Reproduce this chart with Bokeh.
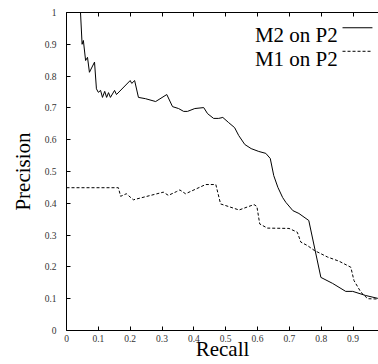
from bokeh.plotting import figure
from bokeh.models import LinearAxis, FixedTicker, Range1d, Label
from bokeh.embed import file_html
from bokeh.resources import INLINE

# ---- data ----
m2_recall = [0, 0.044, 0.049, 0.053, 0.06, 0.066, 0.072, 0.088, 0.094, 0.10, 0.107, 0.113,
             0.12, 0.126, 0.132, 0.138, 0.151, 0.157, 0.2, 0.205, 0.214, 0.226, 0.248, 0.28,
             0.315, 0.333, 0.352, 0.368, 0.38, 0.403, 0.431, 0.443, 0.462, 0.478, 0.491,
             0.509, 0.528, 0.541, 0.56, 0.58, 0.604, 0.626, 0.64, 0.651, 0.664, 0.679, 0.689,
             0.711, 0.73, 0.761, 0.799, 0.836, 0.877, 0.899, 0.94, 0.978]
m2_precision = [1.0, 1.0, 0.90, 0.912, 0.849, 0.859, 0.812, 0.844, 0.76, 0.749, 0.755, 0.733,
                0.752, 0.733, 0.748, 0.733, 0.755, 0.742, 0.786, 0.777, 0.786, 0.733, 0.729, 0.72,
                0.742, 0.704, 0.698, 0.689, 0.689, 0.698, 0.701, 0.682, 0.667, 0.667, 0.67,
                0.654, 0.638, 0.613, 0.585, 0.572, 0.563, 0.557, 0.541, 0.487, 0.45, 0.418, 0.403,
                0.377, 0.368, 0.346, 0.167, 0.148, 0.123, 0.123, 0.11, 0.101]

m1_recall = [0, 0.163, 0.17, 0.188, 0.21, 0.304, 0.32, 0.346, 0.356, 0.374, 0.437, 0.469,
             0.484, 0.542, 0.589, 0.598, 0.607, 0.631, 0.699, 0.725, 0.736, 0.757, 0.778,
             0.82, 0.856, 0.893, 0.903, 0.925, 0.946, 0.978]
m1_precision = [0.449, 0.449, 0.422, 0.43, 0.411, 0.435, 0.425, 0.437, 0.442, 0.43, 0.459, 0.459,
                0.398, 0.379, 0.396, 0.39, 0.335, 0.322, 0.321, 0.309, 0.278, 0.267, 0.252,
                0.231, 0.218, 0.199, 0.157, 0.12, 0.1, 0.099]

series_names = ["M2 on P2", "M1 on P2"]

x_ticks = [0, 0.1, 0.2, 0.3, 0.4, 0.5, 0.6, 0.7, 0.8, 0.9]
x_tick_labels = ["0", "0.1", "0.2", "0.3", "0.4", "0.5", "0.6", "0.7", "0.8", "0.9"]
y_ticks = [0, 0.1, 0.2, 0.3, 0.4, 0.5, 0.6, 0.7, 0.8, 0.9, 1.0]
y_tick_labels = ["0", "0.1", "0.2", "0.3", "0.4", "0.5", "0.6", "0.7", "0.8", "0.9", "1"]

FONT = "Liberation Serif"

p = figure(width=378, height=364, output_backend="svg", toolbar_location=None,
           x_range=Range1d(0, 0.98), y_range=Range1d(0, 1.0),
           min_border_left=66, min_border_right=0, min_border_top=12, min_border_bottom=34)
p.outline_line_color = None
p.xgrid.visible = False
p.ygrid.visible = False
p.background_fill_color = "white"
p.border_fill_color = "white"


def style_axis(ax, ticks, labels, label_standoff):
    ax.ticker = FixedTicker(ticks=ticks)
    ax.major_label_overrides = {t: l for t, l in zip(ticks, labels)}
    ax.minor_tick_line_color = None
    ax.major_tick_out = 0
    ax.major_tick_in = 4
    ax.axis_line_color = "black"
    ax.axis_line_width = 1
    ax.major_tick_line_color = "black"
    ax.major_label_text_font = FONT
    ax.major_label_text_font_size = "9.5px"
    ax.major_label_text_color = "#333333"
    ax.major_label_standoff = label_standoff
    ax.axis_label_text_font = FONT
    ax.axis_label_text_font_size = "21px"
    ax.axis_label_text_font_style = "normal"
    ax.axis_label_text_color = "black"


style_axis(p.xaxis[0], x_ticks, x_tick_labels, 4)
p.xaxis[0].axis_label = "Recall"
p.xaxis[0].axis_label_standoff = -8
style_axis(p.yaxis[0], y_ticks, y_tick_labels, 10)
p.yaxis[0].axis_label = "Precision"
p.yaxis[0].axis_label_standoff = 7

top = LinearAxis()
style_axis(top, x_ticks, x_tick_labels, 0)
top.major_label_text_font_size = "0px"
top.major_label_text_color = None
p.add_layout(top, "above")

p.line(m2_recall, m2_precision, line_color="black", line_width=1)
p.line(m1_recall, m1_precision, line_color="black", line_width=1, line_dash="3 2")

# legend (text on the left, sample line on the right, as in the reference)
p.add_layout(Label(x=0.852, y=0.928, text=series_names[0], text_align="right",
                   text_baseline="alphabetic", text_font=FONT, text_font_size="21px",
                   text_color="black"))
p.add_layout(Label(x=0.852, y=0.855, text=series_names[1], text_align="right",
                   text_baseline="alphabetic", text_font=FONT, text_font_size="21px",
                   text_color="black"))
p.line([0.867, 0.961], [0.952, 0.952], line_color="black", line_width=1)
p.line([0.867, 0.961], [0.878, 0.878], line_color="black", line_width=1, line_dash="3 2")

open("out.html", "w").write(file_html(p, INLINE))
